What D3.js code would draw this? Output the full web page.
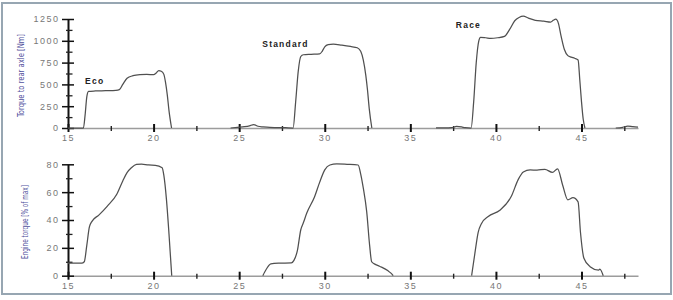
<!DOCTYPE html>
<html>
<head>
<meta charset="utf-8">
<script src="https://cdn.jsdelivr.net/npm/d3@7"></script>
<style>
  body { margin: 0; background: #fff; }
  svg { display: block; font-family: Arial, "Liberation Sans", sans-serif; }
</style>
</head>
<body>
<script>
// time axis (s)
const xMajor = [15, 20, 25, 30, 35, 40, 45]
const xMinor = [17.5, 22.5, 27.5, 32.5, 37.5, 42.5, 47.5]

// upper panel: torque to rear axle [Nm], null = no data
const torqueTime = [
  15, 15.9, 16.0, 16.1, 16.2, 16.6, 17.2, 17.8, 18.0, 18.2, 18.45, 18.8, 19.2, 19.6, 20.0, 20.15, 20.3, 20.45, 20.6, 20.7, 20.8, 20.9, 21.05,
  21.1,
  24.5, 24.9, 25.3, 25.6, 25.85, 26.1, 26.4, 26.8, 27.3, 27.7, 28.15, 28.3, 28.45, 28.6, 28.75, 29.2, 29.7, 29.85, 30.0, 30.2, 30.5, 31.0, 31.5, 31.9, 32.1, 32.25, 32.4, 32.5, 32.6, 32.75,
  32.8,
  36.5, 37.4, 37.7, 38.0, 38.2, 38.55, 38.7, 38.85, 39.0, 39.1, 39.4, 39.7, 40.1, 40.5, 40.8, 41.1, 41.35, 41.6, 41.9, 42.3, 42.8, 43.2, 43.35, 43.5, 43.65, 43.8, 44.0, 44.2, 44.4, 44.6, 44.8, 44.9, 45.0, 45.1, 45.2,
  45.3,
  47.0, 47.4, 47.7, 48.0, 48.3
]
const torqueNm = [
  0, 0, 150, 360, 420, 425, 428, 432, 440, 500, 570, 600, 612, 615, 612, 630, 658, 650, 615, 520, 380, 200, 0,
  null,
  0, 8, 15, 25, 40, 20, 12, 6, 5, 3, 0, 300, 650, 820, 840, 845, 850, 880, 930, 955, 962, 950, 935, 920, 880, 780, 600, 430, 220, 0,
  null,
  0, 5, 18, 12, 3, 0, 300, 750, 1000, 1040, 1035, 1028, 1035, 1050, 1130, 1230, 1268, 1282, 1260, 1235, 1225, 1215, 1235, 1248, 1200, 1060, 900, 830, 812, 800, 780, 550, 300, 100, 0,
  null,
  0, 8, 22, 15, 10
]

// lower panel: engine torque [% of max], null = no data
const engineTime = [
  15, 15.8, 15.95, 16.1, 16.25, 16.4, 16.8, 17.3, 17.85, 18.2, 18.45, 18.7, 19.0, 19.3, 19.7, 20.1, 20.5, 20.6, 20.75, 20.9, 21.06,
  21.1,
  26.38, 26.6, 26.85, 27.3, 28.05, 28.2, 28.4, 28.6, 28.75, 28.95, 29.4, 29.7, 30.0, 30.3, 30.7, 31.3, 31.95, 32.1, 32.25, 32.45, 32.62, 32.74, 32.9, 33.2, 33.7, 33.85, 34.0,
  34.1,
  38.58, 38.77, 38.96, 39.16, 39.55, 40.23, 40.9, 41.3, 41.6, 42.0, 42.4, 42.86, 43.3, 43.6, 43.9, 44.2, 44.5, 44.8, 44.94, 45.14, 45.5, 46.0, 46.07, 46.27
]
const enginePct = [
  9, 9, 10, 22, 35, 39, 43.5, 50, 58.5, 68, 74, 77.5, 80, 80.2, 79.5, 79.3, 77.5, 72, 55, 30, 0,
  null,
  0, 5, 8.5, 9, 9.2, 11, 18, 33, 38, 45, 56.5, 67, 76, 79.5, 80.3, 80, 79.5, 73, 63, 46, 22, 10, 8.5, 6.8, 3.5, 2, 0,
  null,
  0, 16, 31, 37.5, 42.5, 47, 57, 69, 74.5, 76, 75.8, 76.4, 74.2, 76.8, 65, 54.5, 56, 53, 31, 12.5, 6.5, 4, 4.8, 0
]

const torqueMajor = [0, 250, 500, 750, 1000, 1250]
const torqueMinor = [125, 375, 625, 875, 1125]
const engineMajor = [0, 20, 40, 60, 80]
const engineMinor = [10, 30, 50, 70]

const modeLabels = ["Eco", "Standard", "Race"]
const modeLabelPos = [[16.0, 505], [26.35, 929], [37.66, 1147]]

const width = 673
const height = 300

const svg = d3.select("body").append("svg")
  .attr("width", width)
  .attr("height", height)

// frame of the figure
svg.append("rect")
  .attr("x", 2).attr("y", 3)
  .attr("width", 669).attr("height", 291)
  .attr("fill", "none")
  .attr("stroke", "#97a6b2")
  .attr("stroke-width", 2)

const x = d3.scaleLinear().domain([15, 48.3]).range([68, 638])

function drawPanel(yScale, yMajor, yMinor, title, titleX, titleLen, tickFmt) {
  const y0 = yScale(0)
  const g = svg.append("g")

  // x axis
  const xa = g.append("g")
    .attr("transform", `translate(0,${y0})`)
    .call(d3.axisBottom(x).tickValues(xMajor).tickSize(4).tickSizeOuter(0).tickPadding(3))
  xa.select(".domain").attr("stroke", "#9c9c9c").attr("stroke-width", 1.6)
  xa.selectAll(".tick line").attr("y1", -4).attr("y2", 4).attr("stroke", "#111").attr("stroke-width", 2)
  xa.selectAll(".tick text")
    .attr("font-size", 9).attr("fill", "#777").attr("letter-spacing", "1.5px")

  const xm = g.append("g")
    .attr("transform", `translate(0,${y0})`)
    .call(d3.axisBottom(x).tickValues(xMinor).tickSize(3).tickSizeOuter(0).tickFormat(""))
  xm.select(".domain").remove()
  xm.selectAll(".tick line").attr("y1", -2).attr("y2", 3).attr("stroke", "#222").attr("stroke-width", 1.4)

  // y axis
  const ya = g.append("g")
    .attr("transform", "translate(68,0)")
    .call(d3.axisLeft(yScale).tickValues(yMajor).tickSize(6).tickSizeOuter(0).tickPadding(2.5).tickFormat(tickFmt))
  ya.select(".domain").attr("stroke", "#111").attr("stroke-width", 2)
  ya.selectAll(".tick line").attr("x1", -6).attr("x2", 6).attr("stroke", "#111").attr("stroke-width", 1.5)
  ya.selectAll(".tick text")
    .attr("font-size", 9).attr("fill", "#777").attr("letter-spacing", "1.5px")

  const ym = g.append("g")
    .attr("transform", "translate(68,0)")
    .call(d3.axisLeft(yScale).tickValues(yMinor).tickSize(2).tickSizeOuter(0).tickFormat(""))
  ym.select(".domain").remove()
  ym.selectAll(".tick line").attr("x1", -2).attr("x2", 4.5).attr("stroke", "#222").attr("stroke-width", 1.3)

  // axis title
  const [r0, r1] = yScale.range()
  const cy = (r0 + r1) / 2 + 2
  g.append("text")
    .attr("transform", `translate(${titleX},${cy}) rotate(-90)`)
    .attr("text-anchor", "middle")
    .attr("dy", "0.35em")
    .attr("font-family", "'Liberation Sans Narrow', 'DejaVu Sans Condensed', Arial, sans-serif")
    .attr("font-size", 9)
    .attr("fill", "#4f4f9c")
    .attr("textLength", titleLen)
    .attr("lengthAdjust", "spacingAndGlyphs")
    .text(title)
}

const yTop = d3.scaleLinear().domain([0, 1250]).range([128, 19])
const yBot = d3.scaleLinear().domain([0, 80]).range([275.7, 164.3])

drawPanel(yTop, torqueMajor, torqueMinor, "Torque to rear axle [Nm]", 20.5, 83, d3.format("d"))
drawPanel(yBot, engineMajor, engineMinor, "Engine torque [% of max]", 25, 74, d3.format("d"))

// data lines
const torqueData = torqueTime.map((t, i) => ({ t, v: torqueNm[i] }))
const engineData = engineTime.map((t, i) => ({ t, v: enginePct[i] }))

svg.append("path")
  .datum(torqueData)
  .attr("fill", "none")
  .attr("stroke", "#505050")
  .attr("stroke-width", 1.25)
  .attr("stroke-linejoin", "round")
  .attr("d", d3.line().defined(d => d.v !== null).x(d => x(d.t)).y(d => yTop(d.v)).curve(d3.curveMonotoneX))

svg.append("path")
  .datum(engineData)
  .attr("fill", "none")
  .attr("stroke", "#505050")
  .attr("stroke-width", 1.25)
  .attr("stroke-linejoin", "round")
  .attr("d", d3.line().defined(d => d.v !== null).x(d => x(d.t)).y(d => yBot(d.v)).curve(d3.curveMonotoneX))

// drive mode labels
svg.selectAll("text.mode")
  .data(modeLabels)
  .enter()
  .append("text")
  .attr("class", "mode")
  .attr("x", (d, i) => x(modeLabelPos[i][0]))
  .attr("y", (d, i) => yTop(modeLabelPos[i][1]))
  .attr("font-size", 8.5)
  .attr("font-weight", "bold")
  .attr("fill", "#222")
  .attr("letter-spacing", "1.2px")
  .text(d => d)
</script>
</body>
</html>
